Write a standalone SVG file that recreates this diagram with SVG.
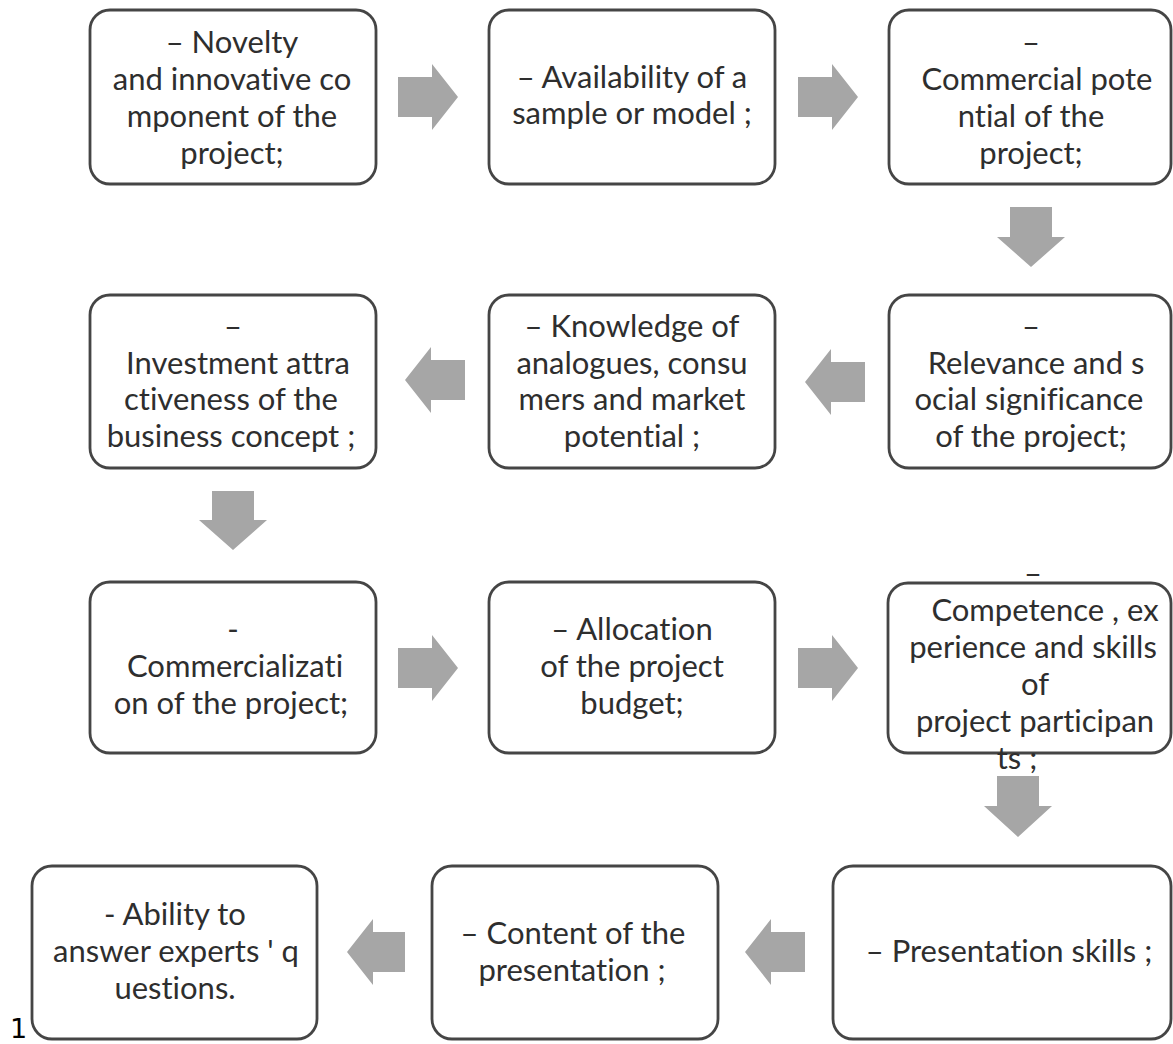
<svg xmlns="http://www.w3.org/2000/svg" width="1173" height="1044" viewBox="0 0 1173 1044">
<style>
.box{fill:#ffffff;stroke:#454545;stroke-width:2.8}
.t{font-family:Lato,"Open Sans","Liberation Sans",sans-serif;font-size:31px;fill:#2e2e2e;text-anchor:middle;font-variant-ligatures:none;font-feature-settings:"liga" 0}
.arr{fill:#a6a6a6;stroke:none}
.num{font-family:"DejaVu Sans","Liberation Sans",sans-serif;font-size:27px;fill:#000000}
</style>
<rect width="1173" height="1044" fill="#ffffff"/>
<g id="connectors">
<path class="arr" d="M398,77 H432 V64 L458,97 L432,130 V117 H398 Z"/>
<path class="arr" d="M798,77 H832 V64 L858,97 L832,130 V117 H798 Z"/>
<path class="arr" d="M1010,207 H1052 V237 H1065 L1031,267 L997,237 H1010 Z"/>
<path class="arr" d="M805,382 L831,349 V362 H865 V402 H831 V415 Z"/>
<path class="arr" d="M405,380 L431,347 V360 H465 V400 H431 V413 Z"/>
<path class="arr" d="M212,491 H254 V520 H267 L233,550 L199,520 H212 Z"/>
<path class="arr" d="M398,648 H432 V635 L458,668 L432,701 V688 H398 Z"/>
<path class="arr" d="M798,648 H832 V635 L858,668 L832,701 V688 H798 Z"/>
<path class="arr" d="M997,776 H1039 V806 H1052 L1018,837 L984,806 H997 Z"/>
<path class="arr" d="M745,952 L771,919 V932 H805 V972 H771 V985 Z"/>
<path class="arr" d="M347,952 L373,919 V932 H405 V972 H373 V985 Z"/>
</g>
<g id="n1">
<rect class="box" x="90" y="10" width="286" height="174" rx="20"/>
<text class="t" x="232" y="53">– Novelty</text>
<text class="t" x="232" y="90">and innovative co</text>
<text class="t" x="232" y="127">mponent of the</text>
<text class="t" x="232" y="164">project;</text>
</g>
<g id="n2">
<rect class="box" x="489" y="10" width="286" height="174" rx="20"/>
<text class="t" x="632" y="88">– Availability of a</text>
<text class="t" x="632" y="124">sample or model ;</text>
</g>
<g id="n3">
<rect class="box" x="889" y="10" width="282" height="174" rx="20"/>
<text class="t" x="1031" y="53">–</text>
<text class="t" x="1037" y="90">Commercial pote</text>
<text class="t" x="1031" y="127">ntial of the</text>
<text class="t" x="1031" y="164">project;</text>
</g>
<g id="n4">
<rect class="box" x="889" y="295" width="282" height="173" rx="20"/>
<text class="t" x="1031" y="337">–</text>
<text class="t" x="1036" y="374">Relevance and s</text>
<text class="t" x="1029" y="410">ocial significance</text>
<text class="t" x="1031" y="447">of the project;</text>
</g>
<g id="n5">
<rect class="box" x="489" y="295" width="286" height="173" rx="20"/>
<text class="t" x="632" y="337">– Knowledge of</text>
<text class="t" x="632" y="374">analogues, consu</text>
<text class="t" x="632" y="410">mers and market</text>
<text class="t" x="632" y="447">potential ;</text>
</g>
<g id="n6">
<rect class="box" x="90" y="295" width="286" height="173" rx="20"/>
<text class="t" x="233" y="337">–</text>
<text class="t" x="238" y="374">Investment attra</text>
<text class="t" x="231" y="410">ctiveness of the</text>
<text class="t" x="231" y="447">business concept ;</text>
</g>
<g id="n7">
<rect class="box" x="90" y="582" width="286" height="171" rx="20"/>
<text class="t" x="233" y="640">-</text>
<text class="t" x="235" y="677">Commercializati</text>
<text class="t" x="231" y="714">on of the project;</text>
</g>
<g id="n8">
<rect class="box" x="489" y="582" width="286" height="171" rx="20"/>
<text class="t" x="632" y="640">– Allocation</text>
<text class="t" x="632" y="677">of the project</text>
<text class="t" x="632" y="714">budget;</text>
</g>
<g id="n9">
<rect class="box" x="888" y="583" width="283" height="170" rx="20"/>
<text class="t" x="1033" y="584">–</text>
<text class="t" x="1045" y="621">Competence , ex</text>
<text class="t" x="1033" y="658">perience and skills</text>
<text class="t" x="1035" y="695">of</text>
<text class="t" x="1035" y="732">project participan</text>
<text class="t" x="1017" y="769">ts ;</text>
</g>
<g id="n10">
<rect class="box" x="833" y="866" width="338" height="173" rx="20"/>
<text class="t" x="1009" y="962">– Presentation skills ;</text>
</g>
<g id="n11">
<rect class="box" x="432" y="866" width="286" height="173" rx="20"/>
<text class="t" x="573" y="944">– Content of the</text>
<text class="t" x="572" y="981">presentation ;</text>
</g>
<g id="n12">
<rect class="box" x="32" y="866" width="285" height="173" rx="20"/>
<text class="t" x="175" y="925">- Ability to</text>
<text class="t" x="176" y="962">answer experts ' q</text>
<text class="t" x="175" y="999">uestions.</text>
</g>
<text class="num" x="10" y="1038">1</text>
</svg>
